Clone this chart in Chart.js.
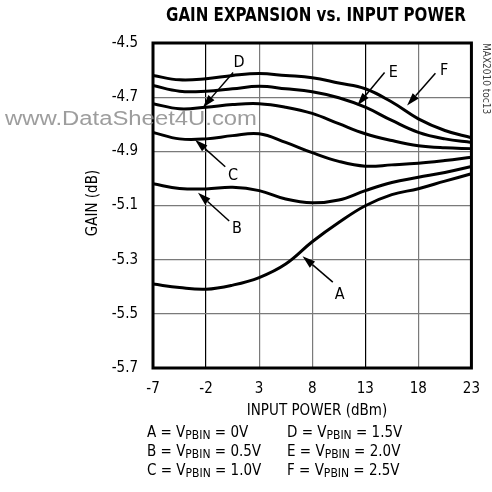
<!DOCTYPE html>
<html><head><meta charset="utf-8">
<script src="https://cdn.jsdelivr.net/npm/chart.js@4.4.1/dist/chart.umd.min.js"></script>
<style>html,body{margin:0;padding:0;background:#fff}canvas{display:block}</style>
</head><body>
<canvas id="c" width="492" height="492"></canvas>
<script>
// ---- data ----
const inputPower = [-7, -4.5, -2, 0.5, 3, 5.5, 8, 10.5, 13, 15.5, 18, 20.5, 23];
const gainA = [-5.390, -5.403, -5.409, -5.394, -5.366, -5.316, -5.234, -5.163, -5.101, -5.060, -5.038, -5.010, -4.983];
const gainB = [-5.020, -5.037, -5.039, -5.033, -5.045, -5.076, -5.090, -5.080, -5.045, -5.015, -4.996, -4.978, -4.956];
const gainC = [-4.830, -4.854, -4.854, -4.842, -4.835, -4.867, -4.905, -4.937, -4.955, -4.950, -4.944, -4.934, -4.922];
const gainD = [-4.724, -4.743, -4.737, -4.727, -4.724, -4.737, -4.760, -4.798, -4.835, -4.860, -4.879, -4.887, -4.890];
const gainE = [-4.657, -4.678, -4.678, -4.669, -4.660, -4.669, -4.680, -4.702, -4.737, -4.786, -4.830, -4.854, -4.867];
const gainF = [-4.620, -4.636, -4.632, -4.620, -4.613, -4.620, -4.628, -4.648, -4.669, -4.718, -4.780, -4.823, -4.850];
const seriesNames = ['A', 'B', 'C', 'D', 'E', 'F'];
const seriesGains = [gainA, gainB, gainC, gainD, gainE, gainF];
const legendLeft = [['A', '0V'], ['B', '0.5V'], ['C', '1.0V']];
const legendRight = [['D', '1.5V'], ['E', '2.0V'], ['F', '2.5V']];
const xMin = -7, xMax = 23, xStep = 5;
const yMin = -5.7, yMax = -4.5, yStep = 0.2;
const titleText = 'GAIN EXPANSION vs. INPUT POWER';
const xTitle = 'INPUT POWER (dBm)';
const yTitle = 'GAIN (dB)';
const sideNote = 'MAX2010 toc13';
const watermark = 'www.DataSheet4U.com';
// callouts: label position, arrow tail, arrow tip (data units)
const calloutLabel = ['A', 'B', 'C', 'D', 'E', 'F'];
const calloutLabelX = [10.59, 0.92, 0.55, 1.10, 15.65, 20.44];
const calloutLabelY = [-5.431, -5.186, -4.990, -4.575, -4.612, -4.601];
const calloutTailX = [9.94, 0.18, -0.19, 0.55, 14.82, 19.61];
const calloutTailY = [-5.383, -5.157, -4.957, -4.609, -4.609, -4.612];
const calloutTipX = [7.09, -2.76, -3.04, -2.30, 12.24, 16.94];
const calloutTipY = [-5.287, -5.053, -4.857, -4.738, -4.731, -4.731];

const NARROW = '"DejaVu Sans Condensed", sans-serif';

const datasets = seriesNames.map((n, i) => ({
  label: n,
  data: inputPower.map((x, j) => ({ x: x, y: seriesGains[i][j] })),
  borderColor: '#000',
  borderWidth: 3,
  pointRadius: 0,
  tension: 0.4,
  fill: false
}));

const decor = {
  id: 'decor',
  afterDatasetsDraw(chart) {
    const ctx = chart.ctx, a = chart.chartArea;
    const xs = chart.scales.x, ys = chart.scales.y;
    ctx.save();
    ctx.strokeStyle = '#000'; ctx.lineWidth = 3;
    ctx.strokeRect(a.left, a.top, a.right - a.left, a.bottom - a.top);
    ctx.fillStyle = '#000'; ctx.strokeStyle = '#000'; ctx.lineWidth = 1.5;
    for (let i = 0; i < calloutLabel.length; i++) {
      const tx = xs.getPixelForValue(calloutTailX[i]), ty = ys.getPixelForValue(calloutTailY[i]);
      const hx = xs.getPixelForValue(calloutTipX[i]), hy = ys.getPixelForValue(calloutTipY[i]);
      const ang = Math.atan2(hy - ty, hx - tx);
      const L = 13, W = 4;
      const bx = hx - L * Math.cos(ang), by = hy - L * Math.sin(ang);
      ctx.beginPath(); ctx.moveTo(tx, ty); ctx.lineTo(bx, by); ctx.stroke();
      ctx.beginPath();
      ctx.moveTo(hx, hy);
      ctx.lineTo(bx + W * Math.sin(ang), by - W * Math.cos(ang));
      ctx.lineTo(bx - W * Math.sin(ang), by + W * Math.cos(ang));
      ctx.closePath(); ctx.fill();
      ctx.font = '16px ' + NARROW;
      ctx.textAlign = 'center'; ctx.textBaseline = 'middle';
      ctx.fillText(calloutLabel[i], xs.getPixelForValue(calloutLabelX[i]), ys.getPixelForValue(calloutLabelY[i]));
    }
    ctx.restore();
  },
  afterDraw(chart) {
    const ctx = chart.ctx;
    ctx.save();
    ctx.fillStyle = '#000';
    ctx.font = 'bold 20px ' + NARROW;
    ctx.textAlign = 'center'; ctx.textBaseline = 'middle';
    ctx.fillText(titleText, 316, 16, 300);
    ctx.font = '15px ' + NARROW;
    ctx.fillText(xTitle, 317, 411);
    ctx.save();
    ctx.translate(93, 203); ctx.rotate(-Math.PI / 2);
    ctx.fillText(yTitle, 0, 0);
    ctx.restore();
    const rowsY = [431, 450, 469];
    const drawRow = (x, y, letter, val) => {
      ctx.textAlign = 'left'; ctx.textBaseline = 'alphabetic';
      ctx.font = '15px ' + NARROW;
      const s1 = letter + ' = V';
      ctx.fillText(s1, x, y); x += ctx.measureText(s1).width;
      ctx.font = '12px ' + NARROW;
      ctx.fillText('PBIN', x, y + 2); x += ctx.measureText('PBIN').width;
      ctx.font = '15px ' + NARROW;
      ctx.fillText(' = ' + val, x, y);
    };
    for (let r = 0; r < 3; r++) {
      drawRow(147, rowsY[r] + 6, legendLeft[r][0], legendLeft[r][1]);
      drawRow(287, rowsY[r] + 6, legendRight[r][0], legendRight[r][1]);
    }
    ctx.save();
    ctx.fillStyle = '#444';
    ctx.font = '10px ' + NARROW;
    ctx.translate(486, 43); ctx.rotate(Math.PI / 2);
    ctx.textAlign = 'left'; ctx.textBaseline = 'middle';
    ctx.fillText(sideNote, 0, 0);
    ctx.restore();
    ctx.save();
    ctx.fillStyle = 'rgba(140,140,140,0.85)';
    ctx.font = '20px "Liberation Sans", Arial, sans-serif';
    ctx.textAlign = 'left'; ctx.textBaseline = 'middle';
    const w = ctx.measureText(watermark).width;
    ctx.translate(5, 119); ctx.scale(252 / w, 1);
    ctx.fillText(watermark, 0, 0);
    ctx.restore();
    ctx.restore();
  }
};

new Chart(document.getElementById('c'), {
  type: 'line',
  data: { datasets: datasets },
  options: {
    responsive: false,
    animation: false,
    layout: { padding: { top: 43, right: 14, left: 0, bottom: 0 } },
    plugins: { legend: { display: false }, tooltip: { enabled: false }, title: { display: false } },
    scales: {
      x: {
        type: 'linear', min: xMin, max: xMax,
        afterFit: s => { s.height = 124; },
        ticks: { stepSize: xStep, color: '#000', padding: 12, font: { family: NARROW, size: 15 }, maxRotation: 0, autoSkip: false,
                 callback: v => String(v) },
        grid: { drawTicks: false, color: c => (c.tick && (c.tick.value === -2 || c.tick.value === 13)) ? '#000' : '#7a7a7a', lineWidth: 1.2 },
        border: { display: false }
      },
      y: {
        type: 'linear', min: yMin, max: yMax,
        afterFit: s => { s.width = 153; },
        ticks: { stepSize: yStep, color: '#000', padding: 15, font: { family: NARROW, size: 15 },
                 callback: v => v.toFixed(1) },
        grid: { drawTicks: false, color: '#7a7a7a', lineWidth: 1.2 },
        border: { display: false }
      }
    }
  },
  plugins: [decor]
});
</script>
</body></html>
